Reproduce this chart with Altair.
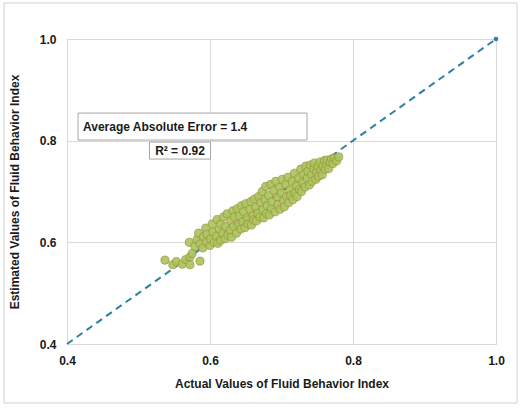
import altair as alt
import pandas as pd

# ---- data ----
# isolated low points (actual, estimated)
low_actual = [0.537, 0.548, 0.553, 0.561, 0.566, 0.572, 0.572, 0.575, 0.586, 0.571]
low_estimated = [0.565, 0.556, 0.562, 0.557, 0.566, 0.571, 0.556, 0.578, 0.563, 0.600]

# main band of points (actual, estimated), one source line per column
band_actual = [
    0.579, 0.582, 0.584, 0.586,
    0.590, 0.591, 0.594, 0.595, 0.596,
    0.600, 0.601, 0.603, 0.604, 0.606,
    0.609, 0.610, 0.611, 0.613, 0.615, 0.615,
    0.618, 0.619, 0.621, 0.622, 0.624, 0.625,
    0.628, 0.629, 0.630, 0.632, 0.633, 0.634,
    0.637, 0.638, 0.640, 0.641, 0.643, 0.644,
    0.646, 0.647, 0.649, 0.650, 0.652, 0.653,
    0.656, 0.657, 0.658, 0.660, 0.661, 0.662,
    0.664, 0.665, 0.667, 0.668, 0.670, 0.671,
    0.673, 0.674, 0.675, 0.677, 0.678, 0.679, 0.680,
    0.682, 0.683, 0.685, 0.686, 0.687, 0.689,
    0.691, 0.692, 0.694, 0.695, 0.697, 0.698,
    0.700, 0.701, 0.703, 0.704, 0.706, 0.707,
    0.709, 0.710, 0.712, 0.713, 0.715, 0.716,
    0.718, 0.719, 0.721, 0.722, 0.724, 0.725,
    0.727, 0.728, 0.730, 0.731, 0.733, 0.734,
    0.736, 0.737, 0.739, 0.740, 0.742, 0.743,
    0.745, 0.746, 0.748, 0.749, 0.751, 0.752,
    0.754, 0.755, 0.757, 0.758, 0.760, 0.761,
    0.763, 0.764, 0.766, 0.768, 0.770,
    0.772, 0.774, 0.777, 0.780,
]
band_estimated = [
    0.592, 0.606, 0.618, 0.597,
    0.589, 0.611, 0.628, 0.601, 0.616,
    0.594, 0.607, 0.636, 0.620, 0.600,
    0.612, 0.645, 0.598, 0.626, 0.604, 0.636,
    0.618, 0.650, 0.607, 0.631, 0.656, 0.614,
    0.624, 0.642, 0.610, 0.662, 0.631, 0.650,
    0.618, 0.666, 0.636, 0.652, 0.626, 0.672,
    0.641, 0.660, 0.629, 0.676, 0.648, 0.636,
    0.665, 0.680, 0.634, 0.652, 0.644, 0.685,
    0.669, 0.642, 0.657, 0.690, 0.650, 0.678,
    0.700, 0.664, 0.648, 0.684, 0.710, 0.657, 0.672,
    0.692, 0.654, 0.714, 0.667, 0.680, 0.702,
    0.660, 0.720, 0.689, 0.674, 0.708, 0.665,
    0.697, 0.724, 0.682, 0.670, 0.714, 0.690,
    0.728, 0.678, 0.703, 0.692, 0.720, 0.684,
    0.736, 0.697, 0.711, 0.690, 0.726, 0.704,
    0.744, 0.700, 0.718, 0.733, 0.709, 0.750,
    0.726, 0.740, 0.713, 0.752, 0.733, 0.720,
    0.745, 0.756, 0.724, 0.737, 0.750, 0.730,
    0.758, 0.741, 0.733, 0.750, 0.761, 0.744,
    0.753, 0.762, 0.745, 0.758, 0.764,
    0.755, 0.766, 0.760, 0.768,
]

ideal_line = [0.4, 1.0]
axis_ticks = [0.4, 0.6, 0.8, 1.0]
mae_text = "Average Absolute Error = 1.4"
r2_text = "R² = 0.92"

# ---- build table ----
points = pd.DataFrame({
    "actual": low_actual + band_actual,
    "estimated": low_estimated + band_estimated,
})
line_df = pd.DataFrame({"actual": ideal_line, "estimated": ideal_line})

FONT = "Liberation Sans"
xscale = alt.Scale(domain=[0.4, 1.0], nice=False, zero=False)
yscale = alt.Scale(domain=[0.4, 1.0], nice=False, zero=False)

x_enc = alt.X("actual:Q", scale=xscale, title="Actual Values of Fluid Behavior Index",
              axis=alt.Axis(values=axis_ticks, format=".1f", tickSize=0, domain=False,
                            labelFlush=False, labelPadding=11, titlePadding=12,
                            gridColor="#d9d9d9",
                            labelFontWeight="bold", titleFontWeight="bold",
                            labelFontSize=12, titleFontSize=12, labelColor="#1a1a1a",
                            titleColor="#1a1a1a", labelFont=FONT, titleFont=FONT))
y_enc = alt.Y("estimated:Q", scale=yscale, title="Estimated Values of Fluid Behavior Index",
              axis=alt.Axis(values=axis_ticks, format=".1f", tickSize=0, domain=False,
                            labelFlush=False, labelPadding=11, titlePadding=18,
                            gridColor="#d9d9d9",
                            labelFontWeight="bold", titleFontWeight="bold",
                            labelFontSize=12, titleFontSize=12, labelColor="#1a1a1a",
                            titleColor="#1a1a1a", labelFont=FONT, titleFont=FONT))

scatter = alt.Chart(points).mark_point(
    shape="circle", filled=True, size=66, fill="#a9c65e", fillOpacity=0.92,
    stroke="#a08a3a", strokeOpacity=0.75, strokeWidth=0.9
).encode(x=x_enc, y=y_enc)

diag = alt.Chart(line_df).mark_line(
    color="#2f7fa3", strokeWidth=2, strokeDash=[7, 5]
).encode(x="actual:Q", y="estimated:Q")

end_dot = alt.Chart(line_df.iloc[[1]]).mark_point(
    shape="circle", filled=True, size=22, color="#2f7fa3", opacity=1
).encode(x="actual:Q", y="estimated:Q")

box1 = pd.DataFrame({"x": [0.4154], "x2": [0.7357], "y": [0.8543], "y2": [0.8012]})
box2 = pd.DataFrame({"x": [0.5154], "x2": [0.6007], "y": [0.7972], "y2": [0.7638]})
rect1 = alt.Chart(box1).mark_rect(fill="white", stroke="#a6a6a6", strokeWidth=1).encode(
    x="x:Q", x2="x2", y="y:Q", y2="y2")
rect2 = alt.Chart(box2).mark_rect(fill="white", stroke="#a6a6a6", strokeWidth=1).encode(
    x="x:Q", x2="x2", y="y:Q", y2="y2")

t1 = alt.Chart(pd.DataFrame({"x": [0.4224], "y": [0.8275], "t": [mae_text]})).mark_text(
    align="left", baseline="middle", font=FONT, fontSize=12, fontWeight="bold", color="#1a1a1a"
).encode(x="x:Q", y="y:Q", text="t:N")
t2 = alt.Chart(pd.DataFrame({"x": [0.558], "y": [0.7805], "t": [r2_text]})).mark_text(
    align="center", baseline="middle", font=FONT, fontSize=12, fontWeight="bold", color="#1a1a1a"
).encode(x="x:Q", y="y:Q", text="t:N")

# outer light frame around the whole figure
frame = alt.Chart(pd.DataFrame({"a": [0]})).mark_rect(
    fill=None, stroke="#d0d0d0", strokeWidth=1, clip=False
).encode(x=alt.value(-63), x2=alt.value(450), y=alt.value(-36), y2=alt.value(364))

chart = alt.layer(frame, diag, end_dot, scatter, rect1, rect2, t1, t2).properties(
    width=429, height=305,
    autosize=alt.AutoSizeParams(type="none"),
    padding={"left": 67, "top": 39, "right": 28, "bottom": 64},
).configure_view(stroke="#262626", strokeWidth=1.8).configure(background="white")

chart.save("out.html", embed_options={"renderer": "svg", "actions": False})
